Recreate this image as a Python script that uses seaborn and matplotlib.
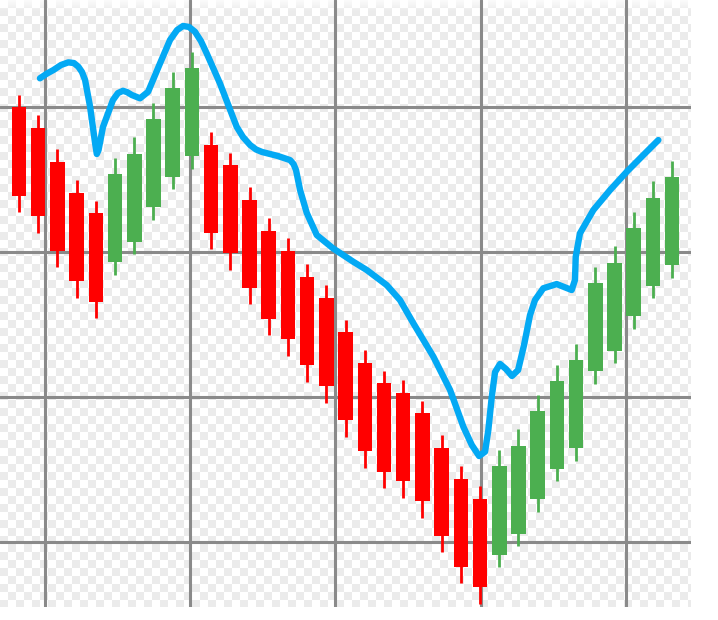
import numpy as np
import pandas as pd
import matplotlib
matplotlib.use("Agg")
import matplotlib.pyplot as plt
from matplotlib.colors import ListedColormap
import seaborn as sns

# candle values (price units, grid every 10)
candle_open = [39.96, 38.53, 36.17, 34.05, 32.65, 29.27, 30.69, 33.06, 35.17, 36.58,
               37.38, 35.96, 33.59, 31.45, 30.07, 28.23, 26.83, 24.44, 22.32, 20.92,
               20.28, 18.86, 16.48, 14.36, 12.96, 9.10, 10.55, 12.94, 15.03, 16.45,
               21.75, 23.17, 25.57, 27.63, 29.06]
candle_close = [33.86, 32.44, 30.07, 27.96, 26.55, 35.34, 36.76, 39.13, 41.27, 42.65,
                31.29, 29.89, 27.50, 25.38, 23.98, 22.17, 20.74, 18.37, 16.26, 14.83,
                14.19, 12.79, 10.41, 8.29, 6.88, 15.20, 16.62, 18.99, 21.08, 22.51,
                27.82, 29.24, 31.61, 33.72, 35.13]
candle_high = [40.83, 39.43, 37.06, 34.94, 33.52, 36.46, 37.91, 40.28, 42.39, 43.79,
               38.26, 36.83, 34.48, 32.34, 30.94, 29.13, 27.70, 25.32, 23.20, 21.79,
               21.15, 19.72, 17.36, 15.22, 13.84, 16.32, 17.77, 20.14, 22.22, 23.63,
               28.97, 30.37, 32.74, 34.88, 36.26]
candle_low = [32.74, 31.31, 28.92, 26.81, 25.41, 28.39, 29.82, 32.19, 34.30, 35.70,
              30.17, 28.74, 26.37, 24.23, 22.83, 21.01, 19.59, 17.24, 15.10, 13.70,
              13.05, 11.62, 9.26, 7.13, 5.72, 8.23, 9.68, 12.05, 14.17, 15.54,
              20.86, 22.30, 24.67, 26.79, 28.17]

# blue trend line (x in candle index units)
line_x = [1.09, 1.46, 1.79, 2.19, 2.57, 2.86, 3.09, 3.28, 3.44, 3.70,
          3.96, 4.05, 4.14, 4.37, 4.89, 5.15, 5.41, 5.62, 5.87, 6.30,
          6.72, 7.34, 7.86, 8.23, 8.54, 8.85, 9.16, 9.47, 9.77, 10.46,
          11.33, 11.66, 12.03, 12.34, 12.65, 13.48, 14.11, 14.29, 14.42, 14.63,
          14.98, 15.50, 16.35, 17.40, 18.10, 19.14, 19.83, 20.53, 21.57, 22.44,
          23.13, 23.57, 23.95, 24.26, 24.43, 24.61, 24.78, 25.04, 25.35, 25.66,
          25.98, 26.29, 26.60, 26.86, 27.29, 27.99, 28.77, 28.94, 28.98, 29.20,
          29.90, 30.77, 31.64, 32.50, 33.28]
line_y = [41.96, 42.29, 42.53, 42.88, 43.06, 43.01, 42.76, 42.39, 41.84, 40.00,
          37.50, 36.74, 37.01, 38.60, 40.46, 40.94, 41.10, 41.01, 40.81, 40.58,
          41.03, 42.99, 44.60, 45.29, 45.57, 45.50, 45.17, 44.53, 43.68, 41.61,
          38.62, 37.91, 37.36, 37.05, 36.88, 36.60, 36.32, 36.05, 35.63, 34.26,
          32.67, 31.15, 30.23, 29.31, 28.74, 27.70, 26.67, 25.06, 22.76, 20.46,
          17.93, 16.67, 15.91, 16.21, 17.70, 20.00, 21.70, 22.26, 21.91, 21.43,
          21.84, 23.57, 25.63, 26.67, 27.48, 27.77, 27.36, 28.05, 29.66, 31.27,
          32.88, 34.26, 35.52, 36.67, 37.70]

grid_y = [10, 20, 30, 40]

df = pd.DataFrame({"open": candle_open, "close": candle_close,
                   "high": candle_high, "low": candle_low})
df["t"] = np.arange(len(df))
colors = np.where(df["close"] >= df["open"], "#4caf50", "#ff0000")

sns.set_style("white")

W, H = 718, 620
plot_w, plot_h = 691, 607
fig = plt.figure(figsize=(W / 100, H / 100), dpi=100)
rect = [0, 1 - plot_h / H, plot_w / W, plot_h / H]

# checkerboard "transparent" backdrop
bg = fig.add_axes(rect)
cell = 8
nr, nc = int(np.ceil(plot_h / cell)), int(np.ceil(plot_w / cell))
checker = np.add.outer(np.arange(nr), np.arange(nc)) % 2
bg.imshow(checker, cmap=ListedColormap(["white", "#ebebeb"]),
          extent=[0, nc * cell, nr * cell, 0], interpolation="nearest", aspect="auto")
fade = np.ones((12, 1, 4))
fade[:, 0, 3] = np.linspace(0.8, 0.0, 12)
bg.imshow(fade, extent=[0, plot_w, 12, 0], aspect="auto")
bg.set_xlim(0, plot_w)
bg.set_ylim(plot_h, 0)
bg.axis("off")

ax = fig.add_axes(rect)
ax.patch.set_alpha(0)

ax.vlines(df["t"], df["low"], df["high"], color=colors, lw=2.0, zorder=2)
ax.bar(df["t"], df["close"] - df["open"], bottom=df["open"], width=0.755,
       color=colors, linewidth=0, zorder=3)

sns.lineplot(x=line_x, y=line_y, sort=False, estimator=None, color="#03a9f4",
             lw=4.6, ax=ax, zorder=4, solid_capstyle="round", solid_joinstyle="round")

ax.set_xlim(-0.989, 34.98)
ax.set_ylim(5.50, 47.36)
ax.set_xticks(np.arange(1.35, 35, 7.56))
ax.set_yticks(grid_y)
ax.tick_params(length=0, labelbottom=False, labelleft=False)
ax.grid(True, color="#8a8a8a", lw=2.2)
ax.set_axisbelow(True)
for s in ax.spines.values():
    s.set_visible(False)

fig.savefig("out.png", dpi=100)
